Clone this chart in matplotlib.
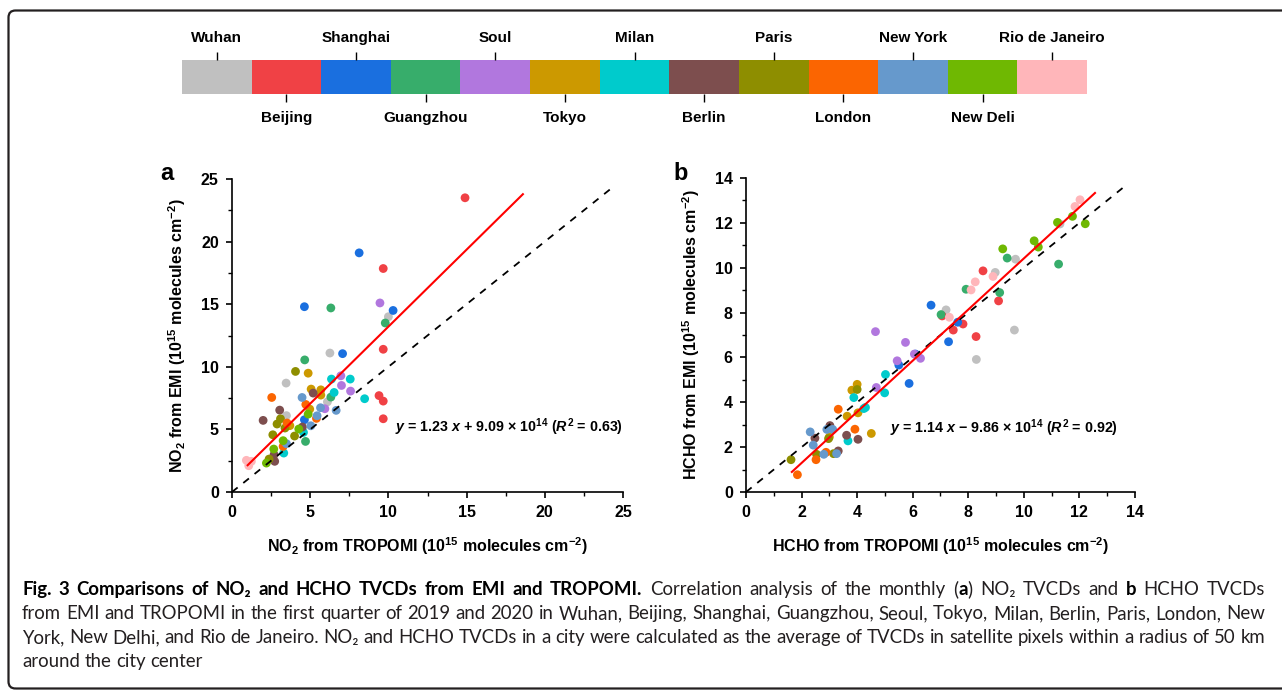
import matplotlib
matplotlib.use('Agg')
import matplotlib.pyplot as plt
from matplotlib.patches import FancyBboxPatch
from matplotlib.transforms import IdentityTransform

plt.rcParams['font.family'] = 'Liberation Sans'
plt.rcParams['font.weight'] = 'bold'
plt.rcParams['axes.labelweight'] = 'bold'
plt.rcParams['mathtext.fontset'] = 'custom'
plt.rcParams['mathtext.rm'] = 'Liberation Sans:bold'
plt.rcParams['mathtext.it'] = 'Liberation Sans:italic:bold'
plt.rcParams['mathtext.bf'] = 'Liberation Sans:bold'
plt.rcParams['mathtext.default'] = 'regular'

# cities and their colours (colour bar on top)
cities = ['Wuhan', 'Beijing', 'Shanghai', 'Guangzhou', 'Soul', 'Tokyo', 'Milan',
          'Berlin', 'Paris', 'London', 'New York', 'New Deli', 'Rio de Janeiro']
city_colors = ['#c0c0c0', '#f04145', '#1a6fdf', '#37ad6b', '#b177de', '#cc9900', '#00cbcc',
               '#7d4e4e', '#8e8e00', '#fb6501', '#6699cc', '#6fb802', '#ffb6ba']

# panel a: NO2 TVCDs (1e15 molec cm-2), TROPOMI vs EMI, city index per point
no2_tropomi = [10.0, 6.26, 3.46, 6.1, 3.48,
               14.9, 9.67, 9.67, 9.4, 9.67, 9.67,
               8.13, 4.63, 10.3, 7.07, 4.63,
               6.32, 9.8, 4.65, 6.32, 4.7,
               9.46, 6.96, 7.0, 7.58, 5.94,
               4.87, 5.06, 5.68, 5.68, 4.97, 3.7,
               6.36, 7.56, 6.53, 8.48, 4.57, 3.31,
               5.19, 3.05, 1.99, 4.5, 2.69, 2.73,
               4.06, 3.1, 2.88, 3.39, 2.61, 4.0, 2.37,
               2.54, 4.72, 5.4, 3.52, 3.27,
               4.48, 5.66, 6.66, 5.44, 5.04, 3.48,
               4.87, 4.27, 3.27, 2.67, 2.2,
               0.92, 1.07, 1.24]
no2_emi = [14.0, 11.1, 8.7, 7.2, 6.1,
           23.5, 17.85, 11.4, 7.7, 7.26, 5.85,
           19.1, 14.8, 14.5, 11.05, 5.77,
           14.7, 13.5, 10.55, 7.58, 4.04,
           15.1, 9.28, 8.51, 8.06, 6.65,
           9.49, 8.22, 8.16, 7.74, 6.62, 5.3,
           9.02, 9.02, 7.95, 7.45, 4.76, 3.11,
           7.9, 6.54, 5.72, 5.19, 2.98, 2.45,
           9.63, 5.85, 5.43, 5.11, 4.57, 4.47, 2.63,
           7.55, 6.99, 5.88, 5.51, 3.64,
           7.55, 6.73, 6.52, 6.09, 5.29, 3.86,
           6.22, 5.03, 4.1, 3.43, 2.31,
           2.53, 2.1, 2.45]
no2_city = [0]*5 + [1]*6 + [2]*5 + [3]*5 + [4]*5 + [5]*6 + [6]*6 + [7]*6 + [8]*7 + [9]*5 + [10]*6 + [11]*5 + [12]*3

# panel b: HCHO TVCDs
hcho_tropomi = [9.70, 8.97, 7.20, 9.66, 8.29, 11.3,
                8.53, 9.09, 7.06, 7.81, 7.46, 8.28,
                6.66, 7.62, 7.29, 5.50, 5.87, 6.1,
                9.40, 11.25, 7.92, 9.13, 7.02,
                4.66, 5.74, 6.06, 6.28, 5.44, 4.69,
                4.00, 3.81, 4.03, 3.64, 4.51, 3.0,
                5.02, 4.99, 3.88, 4.30, 4.24, 3.67,
                3.02, 3.62, 4.03, 2.48, 3.32,
                4.00, 2.97, 3.15, 2.54, 1.62,
                3.32, 3.92, 2.88, 2.52, 1.85,
                2.91, 3.12, 2.31, 2.42, 2.80, 3.26,
                11.75, 11.21, 12.21, 10.37, 10.52, 9.24,
                12.02, 11.84, 8.89, 8.25, 8.10, 7.32]
hcho_emi = [10.38, 9.79, 8.12, 7.22, 5.91, 11.95,
            9.86, 8.52, 7.85, 7.49, 7.22, 6.93,
            8.33, 7.57, 6.70, 5.66, 4.84, 6.15,
            10.43, 10.16, 9.04, 8.89, 7.91,
            7.15, 6.67, 6.15, 5.96, 5.85, 4.66,
            4.80, 4.54, 3.53, 3.38, 2.61, 2.45,
            5.24, 4.42, 4.21, 3.77, 3.72, 2.28,
            2.96, 2.53, 2.35, 2.40, 1.83,
            4.57, 2.38, 1.71, 1.68, 1.44,
            3.69, 2.80, 1.77, 1.44, 0.77,
            2.79, 2.79, 2.68, 2.09, 1.68, 1.71,
            12.29, 12.02, 11.96, 11.20, 10.92, 10.84,
            13.03, 12.73, 9.61, 9.37, 9.01, 7.79]
hcho_city = [0]*6 + [1]*6 + [2]*6 + [3]*5 + [4]*6 + [5]*6 + [6]*6 + [7]*5 + [8]*5 + [9]*5 + [10]*6 + [11]*6 + [12]*6

# regression fits (slope, intercept in 1e15) and the x range they cover
fit_a = (1.23, 0.909, 1.0, 18.6)
fit_b = (1.14, -0.986, 1.65, 12.56)

W, H = 1282, 691
fig = plt.figure(figsize=(W / 100, H / 100), dpi=100)


def px_axes(x0, y0, x1, y1):
    return fig.add_axes([x0 / W, 1 - y1 / H, (x1 - x0) / W, (y1 - y0) / H])


# colour bar with city names
cax = px_axes(182, 60, 1087, 94)
cax.bar(range(len(cities)), [1] * len(cities), width=1, color=city_colors)
cax.set_xlim(-0.5, len(cities) - 0.5)
cax.set_ylim(0, 1)
for s in cax.spines.values():
    s.set_visible(False)
cax.set_yticks([])
cax.set_xticks(range(1, 13, 2), cities[1::2])
cax.set_xticks(range(0, 13, 2), cities[0::2], minor=True)
cax.tick_params(which='major', bottom=True, top=False, labelbottom=True, labeltop=False,
                length=5.8, width=1.0, pad=6.5, labelsize=11)
cax.tick_params(which='minor', bottom=False, top=True, labelbottom=False, labeltop=True,
                length=5.8, width=1.0, pad=5, labelsize=11)
for lab in cax.get_xticklabels(which='both'):
    lab.set_fontweight('bold')


def panel(ax, xs, ys, cs, fit, lim, major, minor, name, eq, eqpos):
    ax.scatter(xs, ys, s=40, c=[city_colors[c] for c in cs], linewidths=0, zorder=2)
    ax.plot([0, lim * 0.977], [0, lim * 0.977], ls=(0, (4, 4)), color='black', lw=1.3, zorder=3)
    k, b, x0, x1 = fit
    ax.plot([x0, x1], [k * x0 + b, k * x1 + b], color='#ff0000', lw=1.5, zorder=4)
    ax.set_xlim(0, lim)
    ax.set_ylim(0, lim)
    ax.set_xticks(range(0, lim + 1, major))
    ax.set_yticks(range(0, lim + 1, major))
    ax.set_xticks([m * minor for m in range(int(lim / minor) + 1)], minor=True)
    ax.set_yticks([m * minor for m in range(int(lim / minor) + 1)], minor=True)
    ax.spines['top'].set_visible(False)
    ax.spines['right'].set_visible(False)
    for s in ['left', 'bottom']:
        ax.spines[s].set_linewidth(1.2)
    ax.tick_params(which='major', length=4.5, width=1.2, labelsize=11.5, pad=5)
    ax.tick_params(which='minor', length=2.6, width=1.0)
    for lab in ax.get_xticklabels() + ax.get_yticklabels():
        lab.set_fontweight('bold')
    ax.set_xlabel(name + r' from TROPOMI (10$^{15}$ molecules cm$^{-2}$)', fontsize=11.5,
                  fontweight='bold', labelpad=11)
    ax.set_ylabel(name + r' from EMI (10$^{15}$ molecules cm$^{-2}$)', fontsize=11.5,
                  fontweight='bold', labelpad=9)
    ax.text(eqpos[0], eqpos[1], eq, transform=ax.transAxes, fontsize=10.3, fontweight='bold',
            va='baseline', ha='left')


axa = px_axes(232, 179, 623, 492)
panel(axa, no2_tropomi, no2_emi, no2_city, fit_a, 25, 5, 2.5, r'NO$_2$',
      r'$\mathit{y}$ = 1.23 $\mathit{x}$ + 9.09 × 10$^{14}$ ($\mathit{R}^2$ = 0.63)', (0.417, 0.192))
axb = px_axes(746, 178, 1135, 492)
panel(axb, hcho_tropomi, hcho_emi, hcho_city, fit_b, 14, 2, 1, 'HCHO',
      r'$\mathit{y}$ = 1.14 $\mathit{x}$ − 9.86 × 10$^{14}$ ($\mathit{R}^2$ = 0.92)', (0.37, 0.188))

fig.text(160, H - 180, 'a', fontsize=17, fontweight='bold', transform=IdentityTransform())
fig.text(673, H - 180, 'b', fontsize=17, fontweight='bold', transform=IdentityTransform())

# caption, drawn word by word so it can be justified
CAP_FONT = ['Lato', 'DejaVu Sans']
renderer = fig.canvas.get_renderer()


def text_w(s, bold, size):
    t = fig.text(0, 0, s, fontsize=size, fontweight='bold' if bold else 'normal', family=CAP_FONT)
    w = t.get_window_extent(renderer).width
    t.remove()
    return w


def adv(s, bold, size):
    return text_w('|' + s + '|', bold, size) - text_w('||', bold, size)


def split_words(parts):
    words = []
    for txt, bold in parts:
        pieces = txt.split(' ')
        for i, p in enumerate(pieces):
            if i > 0:
                words.append((None, bold))
            if p:
                words.append((p, bold))
    return words


def caption_line(y, parts, size, justify=True, x0=22, x1=1265):
    words = split_words(parts)
    widths = [adv(w if w else ' ', b, size) for w, b in words]
    nsp = sum(1 for w, b in words if w is None)
    extra = (x1 - x0 - sum(widths)) / nsp if justify and nsp else 0
    x = x0
    for (w, b), wd in zip(words, widths):
        if w is None:
            x += wd + extra
            continue
        fig.text(x, H - y, w, fontsize=size, fontweight='bold' if b else 'normal', family=CAP_FONT,
                 color='black' if b else '#231f20', transform=IdentityTransform(), va='baseline')
        x += wd


cap_lines = [
    [('Fig. 3 Comparisons of NO₂ and HCHO TVCDs from EMI and TROPOMI.', True),
     (' Correlation analysis of the monthly (', False), ('a', True), (') NO₂ TVCDs and ', False),
     ('b', True), (' HCHO TVCDs', False)],
    [('from EMI and TROPOMI in the first quarter of 2019 and 2020 in Wuhan, Beijing, Shanghai, '
      'Guangzhou, Seoul, Tokyo, Milan, Berlin, Paris, London, New', False)],
    [('York, New Delhi, and Rio de Janeiro. NO₂ and HCHO TVCDs in a city were calculated as the '
      'average of TVCDs in satellite pixels within a radius of 50 km', False)],
    [('around the city center', False)],
]

base = 12
nat = sum(adv(w if w else ' ', b, base) for w, b in split_words(cap_lines[1]))
cap_size = base * (1243 / nat) * 0.995
for i, parts in enumerate(cap_lines):
    caption_line(595 + 24 * i, parts, cap_size, justify=(i < 3))

# rounded outer frame
fig.add_artist(FancyBboxPatch((8.5, 2.5), 1400, 678, boxstyle='round,pad=0,rounding_size=7',
                              transform=IdentityTransform(), fill=False, lw=1.6, ec='#231f20'))

fig.savefig('out.png', dpi=100)
